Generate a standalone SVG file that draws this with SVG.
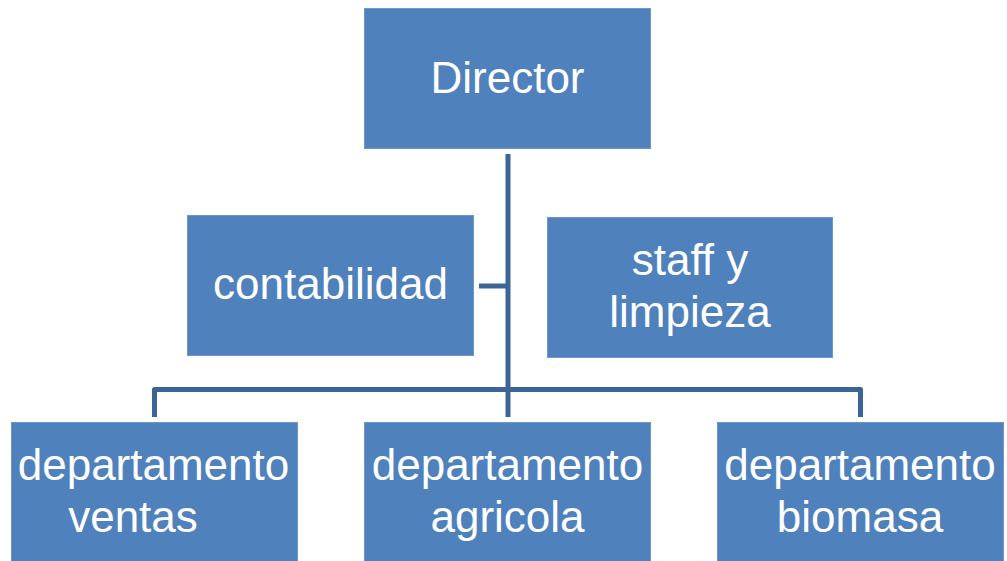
<svg xmlns="http://www.w3.org/2000/svg" width="1007" height="561" viewBox="0 0 1007 561">
<style>
.box{fill:#4F81BD;stroke:#6D97C9;stroke-width:1}
.lbl{fill:#FFFFFF;font-family:"Liberation Sans",Arial,sans-serif;font-size:44px;text-anchor:middle}
.conn{fill:none;stroke:#3C6496;stroke-width:5;stroke-linejoin:round}
</style>
<rect width="1007" height="561" fill="#FFFFFF"/>
<g id="connectors">
<path class="conn" d="M508 154 V417"/>
<path class="conn" d="M479 286 H508"/>
<path class="conn" d="M154.5 417 V389.5 H860.5 V417"/>
</g>
<g id="director">
<rect class="box" x="364.5" y="8.5" width="286" height="140"/>
<text class="lbl" x="507.5" y="93">Director</text>
</g>
<g id="contabilidad">
<rect class="box" x="187.5" y="215.5" width="286" height="140"/>
<text class="lbl" x="330.5" y="299">contabilidad</text>
</g>
<g id="staff">
<rect class="box" x="547.5" y="217.5" width="285" height="140"/>
<text class="lbl" x="690" y="275">staff y</text>
<text class="lbl" x="690" y="327">limpieza</text>
</g>
<g id="ventas">
<rect class="box" x="11.5" y="422.5" width="286" height="145"/>
<text class="lbl" x="153.5" y="480">departamento</text>
<text class="lbl" x="133" y="532">ventas</text>
</g>
<g id="agricola">
<rect class="box" x="364.5" y="422.5" width="286" height="145"/>
<text class="lbl" x="507.5" y="480">departamento</text>
<text class="lbl" x="507.5" y="532">agricola</text>
</g>
<g id="biomasa">
<rect class="box" x="717.5" y="422.5" width="286" height="145"/>
<text class="lbl" x="860" y="480">departamento</text>
<text class="lbl" x="860" y="532">biomasa</text>
</g>
</svg>
